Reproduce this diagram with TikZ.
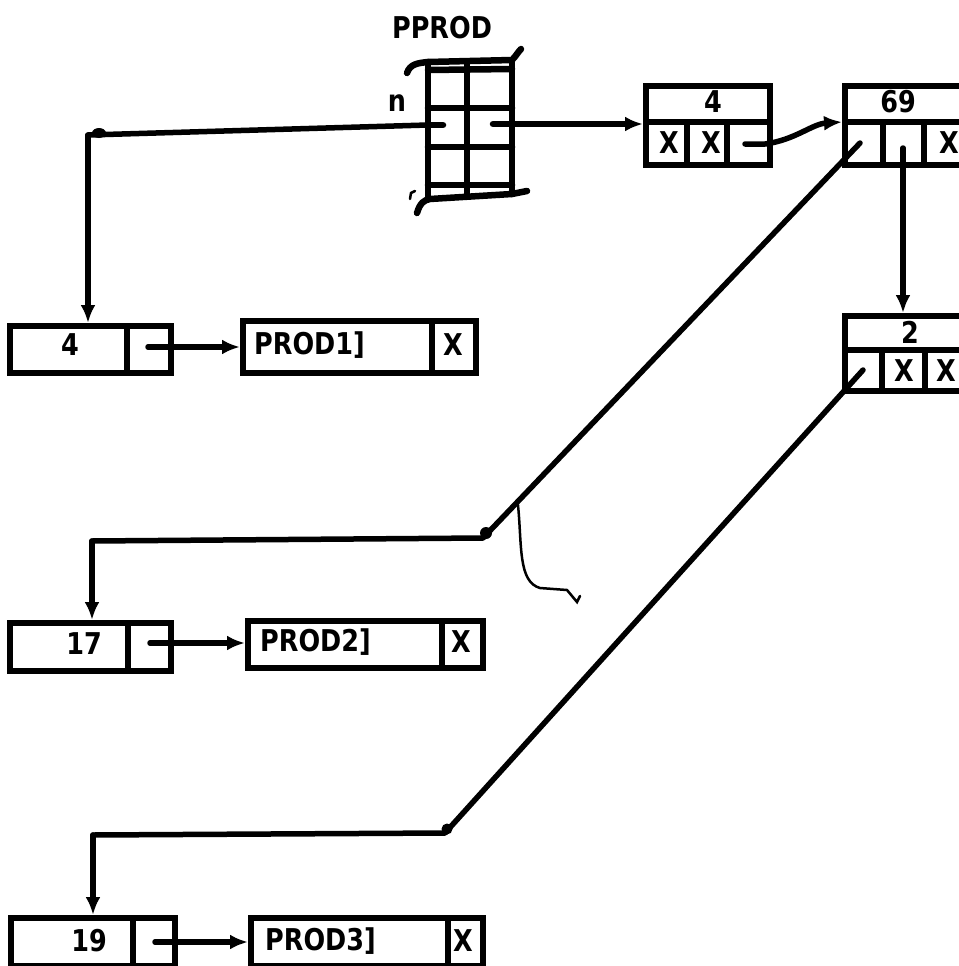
\documentclass[tikz,border=0pt]{standalone}
\usepackage{fontspec}
\newfontfamily\lbl[FakeStretch=0.85]{DejaVu Sans}
\usetikzlibrary{arrows.meta}
\begin{document}
\begin{tikzpicture}[x=1pt,y=-1pt,
 box/.style={draw, line width=6pt, inner sep=0pt, anchor=north west},
 div/.style={line width=5.5pt},
 grd/.style={line width=6.5pt, line cap=round, line join=round},
 con/.style={line width=5.5pt, line cap=round, line join=round},
 arr/.style={con, -{Latex[length=18pt,width=15pt]}},
 lab/.style={font=\lbl\bfseries\fontsize{30}{33}\selectfont, inner sep=0pt},
 handmark/.style={line width=2.5pt, line cap=round}]
\useasboundingbox (0,0) rectangle (958,966);
\fill[white] (0,0) rectangle (958,966);

% ---- PPROD array ----
\node[lab] (pprod) at (442,28) {PPROD};
\node[lab] (nlab) at (397,103) {n};
\draw[grd] (407,73) .. controls (410,64) and (418,63) .. (428,62) -- (512,60) .. controls (516,56) and (518,52) .. (521,49);
\draw[grd] (428,70) -- (512,69);
\draw[grd] (428,62) -- (428,198);
\draw[grd] (467,62) -- (467,196);
\draw[grd] (512,60) -- (512,194);
\draw[grd] (428,108) -- (512,108);
\draw[grd] (428,147) -- (512,147);
\draw[grd] (428,185) -- (512,185);
\draw[grd] (417,213) .. controls (420,203) and (424,200) .. (430,199) -- (512,194) -- (527,191);
\draw[grd] (428,125) -- (443,125);
\draw[grd] (493,124) -- (512,124);
\draw[handmark] (410,199) -- (411,193) -- (415,191);
\coordinate (gl) at (428,125);
\coordinate (gr) at (512,124);

% ---- top node "4" ----
\node[box, minimum width=124pt, minimum height=79pt] (t4) at (643,83) {};
\draw[div] (643,122) -- (767,122);
\draw[div] (687,122) -- (687,162);
\draw[div] (727,122) -- (727,162);
\node[lab] at (713,102) {4};
\node[lab] at (669,143) {X};
\node[lab] at (711,143) {X};
\coordinate (t4p) at (745,144);

% ---- node "69" ----
\node[box, minimum width=140pt, minimum height=79pt] (n69) at (842,83) {};
\draw[div] (842,122) -- (985,122);
\draw[div] (883,122) -- (883,162);
\draw[div] (924,122) -- (924,162);
\node[lab] at (898,102) {69};
\node[lab] at (949,143) {X};
\coordinate (n69a) at (860,143);
\coordinate (n69b) at (903,148);

% ---- node "2" ----
\node[box, minimum width=140pt, minimum height=75pt] (n2) at (842,313) {};
\draw[div] (842,350) -- (985,350);
\draw[div] (882,350) -- (882,388);
\draw[div] (925,350) -- (925,388);
\node[lab] at (910,332) {2};
\node[lab] at (904,371) {X};
\node[lab] at (946,371) {X};
\coordinate (n2a) at (863,370);

% ---- row 1 ----
\node[box, minimum width=161pt, minimum height=47pt] (l4) at (7,323) {};
\draw[div] (127,323) -- (127,370);
\node[lab] at (70,345) {4};
\coordinate (l4p) at (148,347);
\node[box, minimum width=233pt, minimum height=52pt] (p1) at (240,318) {};
\draw[div] (432,318) -- (432,370);
\node[lab, anchor=west] at (254,345) {PROD1]};
\node[lab] at (453,345) {X};

% ---- row 2 ----
\node[box, minimum width=161pt, minimum height=48pt] (l17) at (7,620) {};
\draw[div] (128,620) -- (128,668);
\node[lab] at (84,644) {17};
\coordinate (l17p) at (150,643);
\node[box, minimum width=235pt, minimum height=47pt] (p2) at (245,618) {};
\draw[div] (442,618) -- (442,665);
\node[lab, anchor=west] at (260,642) {PROD2]};
\node[lab] at (461,642) {X};

% ---- row 3 ----
\node[box, minimum width=164pt, minimum height=48pt] (l19) at (8,915) {};
\draw[div] (133,915) -- (133,963);
\node[lab] at (89,941) {19};
\coordinate (l19p) at (155,942);
\node[box, minimum width=232pt, minimum height=48pt] (p3) at (248,915) {};
\draw[div] (448,915) -- (448,963);
\node[lab, anchor=west] at (265,941) {PROD3]};
\node[lab] at (463,941) {X};

% ---- connectors ----
\coordinate (c1) at (88,135);
\draw[con] (gl) -- (c1);
\draw[arr] (c1) -- (c1 |- l4.north);
\fill (99,133) ellipse (7 and 5);

\draw[arr] (gr) -- (t4.west |- gr);
\draw[arr] (t4p) -- (765,144) .. controls (795,140) and (812,124) .. (n69.west |- 0,122);

\coordinate (c2) at (483,538);
\coordinate (c2b) at (92,541);
\draw[con] (n69a) -- (c2) -- (c2b);
\fill (486,533) circle (6);
\draw[arr] (c2b) -- (c2b |- l17.north);

\draw[arr] (n69b) -- (n69b |- n2.north);

\coordinate (c3) at (445,833);
\coordinate (c3b) at (93,835);
\draw[con] (n2a) -- (c3) -- (c3b);
\fill (447,829) circle (5.5);
\draw[arr] (c3b) -- (c3b |- l19.north);

\draw[arr] (l4p) -- (p1.west |- l4p);
\draw[arr] (l17p) -- (p2.west |- l17p);
\draw[arr] (l19p) -- (p3.west |- l19p);

% stray hand mark
\draw[handmark] (518,505) .. controls (522,545) and (518,582) .. (540,588) -- (567,590) -- (577,602) -- (580,596);
\end{tikzpicture}
\end{document}
